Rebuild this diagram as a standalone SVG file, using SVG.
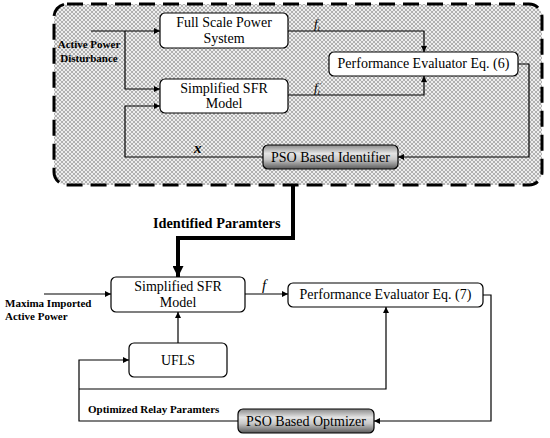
<svg xmlns="http://www.w3.org/2000/svg" width="550" height="438" viewBox="0 0 550 438">
<defs>
<pattern id="hatch" width="4" height="4" patternUnits="userSpaceOnUse">
<rect width="4" height="4" fill="#eeeeee"/>
<path d="M0,0 L4,4 M4,0 L0,4" stroke="#aaaaaa" stroke-width="0.9"/>
</pattern>
<linearGradient id="metal" x1="0" y1="0" x2="0" y2="1">
<stop offset="0" stop-color="#8a8a8a"/>
<stop offset="0.35" stop-color="#e4e4e4"/>
<stop offset="0.6" stop-color="#c8c8c8"/>
<stop offset="1" stop-color="#5a5a5a"/>
</linearGradient>
<marker id="arr" viewBox="0 0 10 10" refX="10" refY="5" markerWidth="8" markerHeight="6" markerUnits="userSpaceOnUse" orient="auto">
<path d="M0,0 L10,5 L0,10 z" fill="#000"/>
</marker>
<marker id="thick" viewBox="0 0 10 10" refX="10" refY="5" markerWidth="16" markerHeight="11" markerUnits="userSpaceOnUse" orient="auto">
<path d="M0,0 L10,5 L0,10 z" fill="#000"/>
</marker>
</defs>
<style>
.box{fill:#fff;stroke:#000;stroke-width:1.2}
.pso{fill:url(#metal);stroke:#000;stroke-width:1.2}
.t{font-family:"Liberation Serif","Times New Roman",serif;font-size:14px;fill:#000;text-anchor:middle}
.b{font-family:"Liberation Serif","Times New Roman",serif;font-weight:bold;fill:#000}
.w{fill:none;stroke:#000;stroke-width:1.2}
.i{font-family:"Liberation Serif","Times New Roman",serif;font-style:italic;fill:#000}
</style>
<rect width="550" height="438" fill="#fff"/>
<g id="identification-area">
<rect x="54" y="4" width="488" height="181" rx="13" fill="url(#hatch)" stroke="#000" stroke-width="3" stroke-dasharray="16,8"/>
</g>
<g id="connectors">
<path class="w" d="M91,31 H160" marker-end="url(#arr)"/>
<path class="w" d="M125,31 V89 H160" marker-end="url(#arr)"/>
<path class="w" d="M263,157 H125 V106 H160" marker-end="url(#arr)"/>
<path class="w" d="M288,31 H424 V52" marker-end="url(#arr)"/>
<path class="w" d="M288,95 H424 V76" marker-end="url(#arr)"/>
<path class="w" d="M518,64 H529 V157 H398" marker-end="url(#arr)"/>
<path d="M293,185 V238 H178 V277" fill="none" stroke="#000" stroke-width="4" marker-end="url(#thick)"/>
<path class="w" d="M44,294 H111" marker-end="url(#arr)"/>
<path class="w" d="M245,294 H288" marker-end="url(#arr)"/>
<path class="w" d="M178,343 V312" marker-end="url(#arr)"/>
<path class="w" d="M483,295 H491 V421 H374" marker-end="url(#arr)"/>
<path class="w" d="M238,421 H79 V360 H129" marker-end="url(#arr)"/>
<path class="w" d="M79,389 H386 V307" marker-end="url(#arr)"/>
</g>
<g id="full-scale">
<rect class="box" x="160" y="13" width="128" height="35" rx="5"/>
<text class="t" x="224" y="27">Full Scale Power</text>
<text class="t" x="224" y="43">System</text>
</g>
<g id="sfr-top">
<rect class="box" x="160" y="79" width="128" height="34" rx="5"/>
<text class="t" x="224" y="93">Simplified SFR</text>
<text class="t" x="224" y="108">Model</text>
</g>
<g id="evaluator6">
<rect class="box" x="329" y="52" width="189" height="24" rx="5"/>
<text class="t" x="423.5" y="68">Performance Evaluator Eq. (6)</text>
</g>
<g id="pso-identifier">
<rect class="pso" x="263" y="145" width="135" height="24" rx="5"/>
<text class="t" x="330.5" y="162">PSO Based Identifier</text>
</g>
<g id="sfr-bottom">
<rect class="box" x="111" y="277" width="134" height="35" rx="5"/>
<text class="t" x="178" y="291">Simplified SFR</text>
<text class="t" x="178" y="307">Model</text>
</g>
<g id="evaluator7">
<rect class="box" x="288" y="283" width="195" height="24" rx="5"/>
<text class="t" x="385.5" y="299">Performance Evaluator Eq. (7)</text>
</g>
<g id="ufls">
<rect class="box" x="129" y="343" width="98" height="34" rx="5"/>
<text class="t" x="178" y="365">UFLS</text>
</g>
<g id="pso-optimizer">
<rect class="pso" x="238" y="409" width="136" height="24" rx="5"/>
<text class="t" x="306" y="426">PSO Based Optmizer</text>
</g>
<g id="labels">
<text class="b" x="89" y="48" font-size="11" text-anchor="middle">Active Power</text>
<text class="b" x="89" y="62" font-size="11" text-anchor="middle">Disturbance</text>
<text class="i" x="314" y="28" font-size="13">f<tspan font-size="8" dy="3">t</tspan></text>
<text class="i" x="314" y="92" font-size="13">f<tspan font-size="8" dy="3">t</tspan><tspan font-size="7" dy="-8">'</tspan></text>
<text class="i" x="194" y="153" font-size="15" font-weight="bold">x</text>
<text class="b" x="153" y="228" font-size="14.3">Identified Paramters</text>
<text class="b" x="5" y="307" font-size="11">Maxima Imported</text>
<text class="b" x="5" y="320" font-size="11">Active Power</text>
<text class="i" x="262" y="290" font-size="15">f</text>
<text class="b" x="88" y="413" font-size="11">Optimized Relay Paramters</text>
</g>
</svg>
